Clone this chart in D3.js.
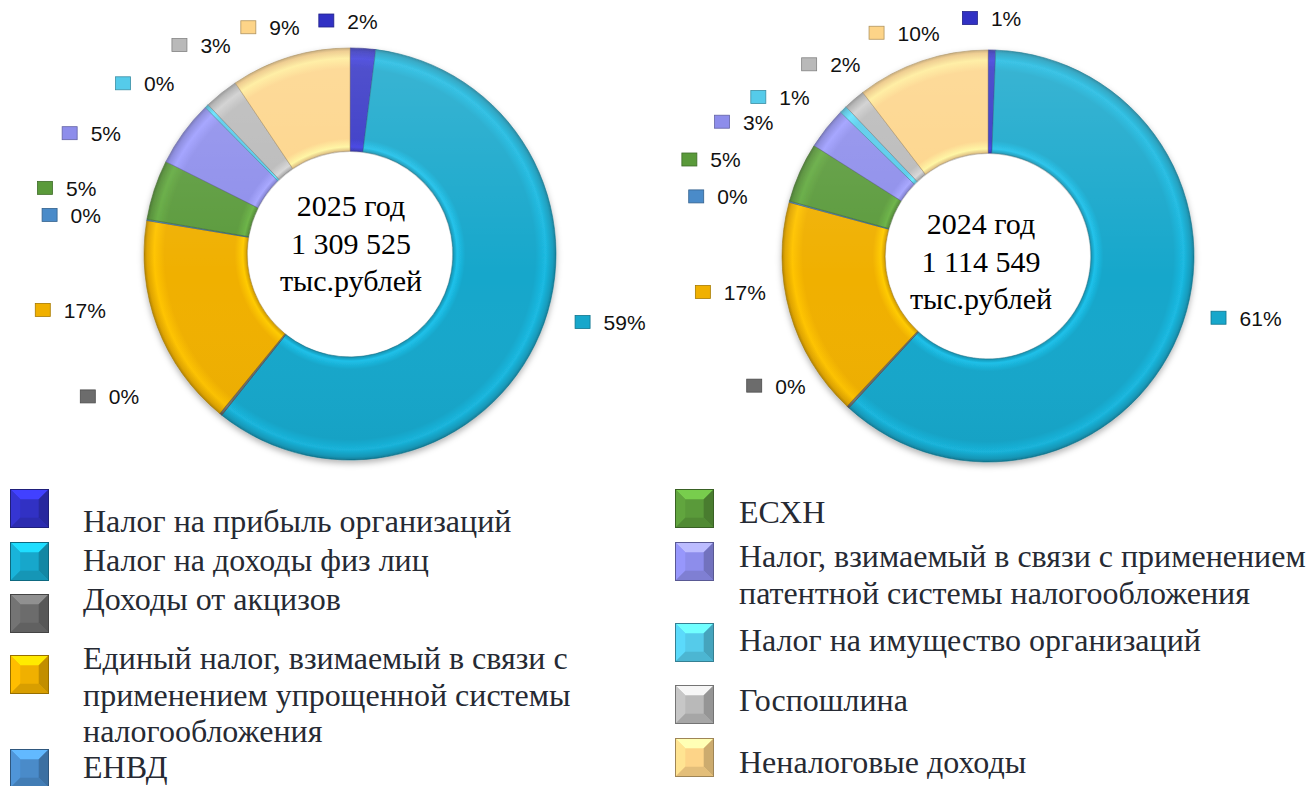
<!DOCTYPE html>
<html>
<head>
<meta charset="utf-8">
<script src="https://cdn.jsdelivr.net/npm/d3@7"></script>
<style>
  body { margin: 0; background: #fff; }
  svg { display: block; }
</style>
</head>
<body>
<svg width="1306" height="786"></svg>
<script>
// categories, same order as the slices go clockwise from 12 o'clock
var categories = [
    "Налог на прибыль организаций",
    "Налог на доходы физ лиц",
    "Доходы от акцизов",
    "Единый налог, взимаемый в связи с применением упрощенной системы налогообложения",
    "ЕНВД",
    "ЕСХН",
    "Налог, взимаемый в связи с применением патентной системы налогообложения",
    "Налог на имущество организаций",
    "Госпошлина",
    "Неналоговые доходы"
];
var colors = ["#3131c4", "#17a7cb", "#6c6c6c", "#f0b000", "#4a8bc9",
              "#5a9a3a", "#8d8deb", "#55cbea", "#b9b9b9", "#fdd488"];

// shares, % of total
var shares2025 = [2.0, 58.7, 0.2, 16.7, 0.1, 4.7, 5.2, 0.3, 2.7, 9.4];
var shares2024 = [0.6, 61.2, 0.2, 17.2, 0.1, 4.7, 3.3, 0.6, 1.7, 10.4];
var centerText2025 = ["2025 год", "1 309 525", "тыс.рублей"];
var centerText2024 = ["2024 год", "1 114 549", "тыс.рублей"];

// manual shifts of the percent labels (Excel placed them by hand)
var nudges2025 = [[-40, 26], [-7, -33], [-99, -60], [-64, -36], [-44, 4],
                  [-58, 15], [-70, 32], [-46, 16], [-8, -6], [-26, 22]];
var nudges2024 = [[-23, 22], [-10, -37], [-57, -61], [-35, -35], [-41, 9],
                  [-61, 9], [-62, 27], [-47, 26], [-10, 6], [-28, 23]];

// legend rows: column, marker top, first baseline
var legendCol = [0, 0, 0, 0, 0, 1, 1, 1, 1, 1];
var legendTop = [489, 542, 594, 655, 749, 489, 542, 623, 685, 738];
var legendBase = [532, 571, 610, 669, 778, 523, 567, 651, 711, 773];

var svg = d3.select("svg"),
    width = +svg.attr("width"),
    height = +svg.attr("height");

var outerR = 206, innerR = 103, labelR = 260;

var charts = [
    { cx: 350, cy: 254, values: shares2025, text: centerText2025, tdx: 1, tdy: 0, nudges: nudges2025 },
    { cx: 988, cy: 256, values: shares2024, text: centerText2024, tdx: -7, tdy: 16, nudges: nudges2024 }
];

var defs = svg.append("defs");

var shadow = defs.append("filter").attr("id", "shadow")
    .attr("x", "-20%").attr("y", "-20%").attr("width", "140%").attr("height", "140%");
shadow.append("feDropShadow").attr("dx", 0).attr("dy", 3)
    .attr("stdDeviation", 3).attr("flood-color", "#000").attr("flood-opacity", 0.3);

// bevel-ish radial gradient per slice colour (centred on the ring centre)
colors.forEach(function(c, i) {
    var base = d3.color(c);
    var gr = defs.append("radialGradient")
        .attr("id", "g" + i)
        .attr("gradientUnits", "userSpaceOnUse")
        .attr("cx", 0).attr("cy", 0).attr("r", outerR)
        .attr("fx", 0).attr("fy", 0);
    [[0.5, base.darker(0.4)], [0.52, base.brighter(0.4)], [0.56, base],
     [0.9, base], [0.95, base.brighter(0.3)], [0.985, base.darker(0.2)], [1, base.darker(0.8)]]
        .forEach(function(s) {
            gr.append("stop").attr("offset", s[0]).attr("stop-color", s[1].formatHex());
        });
});

var gl = defs.append("linearGradient").attr("id", "gloss")
    .attr("x1", 0).attr("y1", 0).attr("x2", 0).attr("y2", 1);
gl.append("stop").attr("offset", 0).attr("stop-color", "#fff").attr("stop-opacity", 0.16);
gl.append("stop").attr("offset", 0.55).attr("stop-color", "#fff").attr("stop-opacity", 0.0);
gl.append("stop").attr("offset", 1).attr("stop-color", "#000").attr("stop-opacity", 0.04);

var pie = d3.pie().sort(null).value(function(d) { return d; });
var arc = d3.arc().innerRadius(innerR).outerRadius(outerR);

charts.forEach(function(ch, ci) {
    var g = svg.append("g").attr("transform", "translate(" + ch.cx + "," + ch.cy + ")");
    var arcs = pie(ch.values);

    var ring = g.append("g").attr("filter", "url(#shadow)");
    ring.selectAll("path.slice")
        .data(arcs)
        .enter().append("path")
        .attr("class", "slice")
        .attr("d", arc)
        .attr("fill", function(d, i) { return "url(#g" + i + ")"; })
        .attr("stroke", function(d, i) { return d3.color(colors[i]).darker(1.2); })
        .attr("stroke-opacity", 0.7)
        .attr("stroke-width", 0.8);

    g.append("path")
        .attr("d", d3.arc().innerRadius(innerR).outerRadius(outerR).startAngle(0).endAngle(2 * Math.PI)())
        .attr("fill", "url(#gloss)")
        .attr("pointer-events", "none");

    // hole
    g.append("circle").attr("r", innerR - 1).attr("fill", "#fff");

    // centre text
    g.append("g").selectAll("text")
        .data(ch.text)
        .enter().append("text")
        .attr("x", ch.tdx)
        .attr("y", function(d, i) { return ch.tdy - 38 + i * 37.5; })
        .attr("text-anchor", "middle")
        .attr("font-family", "'Liberation Serif', 'Times New Roman', serif")
        .attr("font-size", 30)
        .attr("fill", "#000")
        .text(function(d) { return d; });

    // percent labels
    var total = d3.sum(ch.values);
    var lab = g.selectAll("g.lab")
        .data(arcs)
        .enter().append("g")
        .attr("class", "lab")
        .attr("transform", function(d, i) {
            var a = (d.startAngle + d.endAngle) / 2;
            var x = labelR * Math.sin(a) + ch.nudges[i][0],
                y = -labelR * Math.cos(a) + ch.nudges[i][1];
            return "translate(" + x + "," + y + ")";
        });
    lab.append("rect")
        .attr("x", -7.5).attr("y", -6.5).attr("width", 15).attr("height", 13)
        .attr("fill", function(d, i) { return colors[i]; })
        .attr("stroke", function(d, i) { return d3.color(colors[i]).darker(1); })
        .attr("stroke-width", 0.8);
    lab.append("text")
        .attr("x", 21).attr("y", 8)
        .attr("font-family", "'Liberation Sans', Arial, sans-serif")
        .attr("font-size", 21)
        .attr("fill", "#111")
        .text(function(d) { return Math.round(d.value / total * 100) + "%"; });
});

// legend
var colX = [10, 675], textX = [83, 739], wrapW = [500, 575], lineH = 36.5;

function bevelSquare(sel, x, y, s, color) {
    var b = s * 0.27, c = d3.color(color);
    var faces = [
        [[[x, y], [x + s, y], [x + s - b, y + b], [x + b, y + b]], c.brighter(0.8)],
        [[[x, y], [x + b, y + b], [x + b, y + s - b], [x, y + s]], c.brighter(0.2)],
        [[[x + s, y], [x + s, y + s], [x + s - b, y + s - b], [x + s - b, y + b]], c.darker(0.6)],
        [[[x, y + s], [x + b, y + s - b], [x + s - b, y + s - b], [x + s, y + s]], c.darker(0.3)]
    ];
    sel.append("rect").attr("x", x).attr("y", y).attr("width", s).attr("height", s).attr("fill", c.formatHex());
    faces.forEach(function(f) {
        sel.append("polygon")
            .attr("points", f[0].map(function(p) { return p.join(","); }).join(" "))
            .attr("fill", f[1].formatHex());
    });
    sel.append("rect").attr("x", x + b).attr("y", y + b).attr("width", s - 2 * b).attr("height", s - 2 * b)
        .attr("fill", c.formatHex());
    sel.append("rect").attr("x", x + 0.5).attr("y", y + 0.5).attr("width", s - 1).attr("height", s - 1)
        .attr("fill", "none").attr("stroke", c.darker(1.3).formatHex()).attr("stroke-width", 1);
}

var legend = svg.append("g").attr("class", "legend");
categories.forEach(function(name, i) {
    var col = legendCol[i];
    var item = legend.append("g");
    bevelSquare(item, colX[col], legendTop[i], 39, colors[i]);
    var t = item.append("text")
        .attr("font-family", "'Liberation Serif', 'Times New Roman', serif")
        .attr("font-size", 32)
        .attr("fill", "#262a33");
    // wrap words
    var words = name.split(" "), line = [], ln = 0;
    var ts = t.append("tspan").attr("x", textX[col]).attr("y", legendBase[i]);
    words.forEach(function(w) {
        line.push(w);
        ts.text(line.join(" "));
        if (ts.node().getComputedTextLength() > wrapW[col] && line.length > 1) {
            line.pop();
            ts.text(line.join(" "));
            line = [w];
            ln++;
            ts = t.append("tspan").attr("x", textX[col]).attr("y", legendBase[i] + ln * lineH).text(w);
        }
    });
});
</script>
</body>
</html>
